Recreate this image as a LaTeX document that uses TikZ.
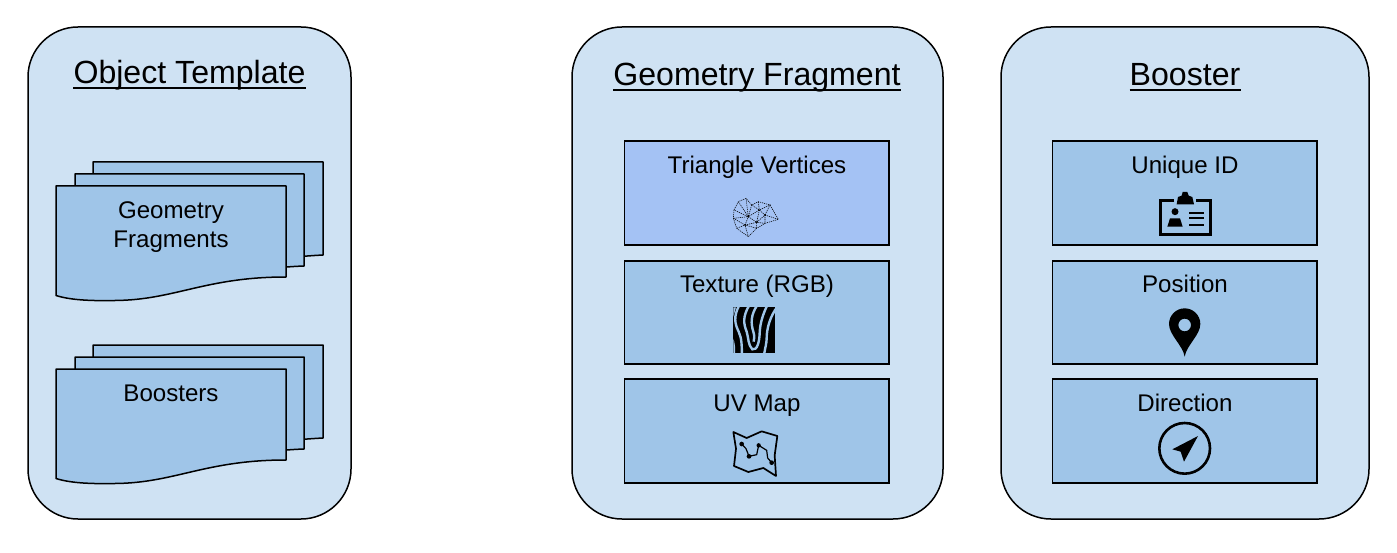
\documentclass[tikz,border=0pt]{standalone}
\usepackage{fontspec}
\setmainfont{Liberation Sans}
\definecolor{outerc}{HTML}{CFE2F3}
\definecolor{innerc}{HTML}{9FC5E8}
\definecolor{triac}{HTML}{A4C2F4}
\tikzset{
  panel/.style={draw=black,fill=outerc,line width=1.5pt,rounded corners=50pt},
  inbox/.style={draw=black,fill=innerc,line width=1.2pt},
  triabox/.style={draw=black,fill=triac,line width=1.2pt},
  sheet/.style={draw=black,fill=innerc,line width=1.5pt,line join=round},
  titletxt/.style={inner sep=0pt,anchor=base,font=\fontsize{32.1}{34}\selectfont},
  bodytxt/.style={inner sep=0pt,anchor=base,font=\fontsize{24.1}{29}\selectfont,align=center},
  uline/.style={draw=black,line width=2pt},
  icon/.style={shift={#1},scale=1/3},
  mesh/.style={line width=0.55pt,dash pattern=on 1.2pt off 0.9pt},
}
\newcommand{\stackdoc}[1]{%
  \begin{scope}[shift={(0,#1)}]
    \path[sheet] (93,162) -- (323,162) -- (323,255) .. controls (265,258) and (225,268) .. (190,272) -- (93,272) -- cycle;
    \path[sheet] (75,174) -- (304,174) -- (304,266) .. controls (250,268) and (210,280) .. (170,284) -- (75,284) -- cycle;
    \path[sheet] (56,186) -- (286,186) -- (286,277) .. controls (205,277) and (175,300) .. (115,300.5) .. controls (90,301) and (70,300) .. (56,295.5) -- cycle;
  \end{scope}}
\begin{document}
\begin{tikzpicture}[x=1pt,y=-1pt]
\useasboundingbox (0,0) rectangle (1397,553);
\path[panel] (28,27) rectangle (351,519);
\path[panel] (572,27) rectangle (943,519);
\path[panel] (1001,27) rectangle (1369,519);

\node[titletxt] (t1) at (189.5,84) {Object Template};
\node[titletxt] (t2) at (757,86) {Geometry Fragment};
\node[titletxt] (t3) at (1185,86) {Booster};
\draw[uline] ([yshift=-4.5pt]t1.base west) -- ([yshift=-4.5pt]t1.base east);
\draw[uline] ([yshift=-4.5pt]t2.base west) -- ([yshift=-4.5pt]t2.base east);
\draw[uline] ([yshift=-4.5pt]t3.base west) -- ([yshift=-4.5pt]t3.base east);

\stackdoc{0}
\stackdoc{183}
\node[bodytxt] (g1) at (171,219) {Geometry};
\node[bodytxt] (g2) at (171,248) {Fragments};
\node[bodytxt] (b1) at (171,401.5) {Boosters};

\path[triabox] (624.5,141) rectangle (889,245);
\path[inbox] (624.5,261) rectangle (889,364);
\path[inbox] (624.5,379) rectangle (889,483);
\path[inbox] (1052.5,141) rectangle (1317,245);
\path[inbox] (1052.5,261) rectangle (1317,364);
\path[inbox] (1052.5,379) rectangle (1317,483);

\node[bodytxt] (l1) at (757,174) {Triangle Vertices};
\node[bodytxt] (l2) at (757,292.5) {Texture (RGB)};
\node[bodytxt] (l3) at (757,411.5) {UV Map};
\node[bodytxt] (r1) at (1185,174) {Unique ID};
\node[bodytxt] (r2) at (1185,292.5) {Position};
\node[bodytxt] (r3) at (1185,411.5) {Direction};

% triangle mesh icon
\begin{scope}[icon={(720,185)},mesh]
  \draw (42,75) -- (55,50) -- (78,40) -- (95,60) -- (115,50) -- (150,60) -- (175,103) -- (135,115) -- (110,130) -- (85,155) -- (50,130) -- (40,100) -- cycle;
  \draw (55,50) -- (85,95) -- (42,75) (40,100) -- (85,95) -- (75,120) -- (50,130) (40,100) -- (75,120) -- (85,155) (75,120) -- (110,112) -- (110,130) -- (75,120);
  \draw (78,40) -- (85,95) -- (95,60) -- (118,75) -- (85,95) -- (110,112) -- (135,90) -- (118,75) -- (115,50) (118,75) -- (110,112) (135,90) -- (150,60) -- (118,75) (135,90) -- (175,103) (135,90) -- (135,115) -- (110,112);
  \fill (85,95) circle (3) (135,90) circle (3) (75,120) circle (3) (110,112) circle (2.5);
\end{scope}

% texture icon
\begin{scope}[icon={(720,300)}]
  \fill[black] (40,22) rectangle (165,158);
  \begin{scope}
    \clip (40,22) rectangle (165,158);
    \draw[innerc,line width=2.4pt]
      (58,15) .. controls (40,50) and (44,70) .. (56,95) .. controls (66,115) and (65,140) .. (66,165);
    \draw[innerc,line width=2.4pt]
      (88,15) .. controls (68,50) and (70,70) .. (80,95) .. controls (86,115) and (84,135) .. (97,148) .. controls (112,152) and (118,125) .. (119,100) .. controls (120,70) and (128,45) .. (142,15);
    \draw[innerc,line width=2.4pt]
      (112,15) .. controls (92,45) and (92,70) .. (100,95) .. controls (104,108) and (103,115) .. (101,125);
    \draw[innerc,line width=2.4pt]
      (172,20) .. controls (150,50) and (140,85) .. (140,115) .. controls (140,130) and (135,145) .. (132,165);
    \draw[innerc,line width=2.2pt] (36,115) .. controls (42,130) and (43,145) .. (42,165);
    \fill[innerc] (40,22) -- (48,22) -- (40,50) -- cycle;
  \end{scope}
\end{scope}

% uv map icon
\begin{scope}[icon={(720,422)}]
  \draw[line width=1.7pt,line join=round] (40,30) -- (80,48) -- (125,28) -- (172,42) -- (164,100) -- (168,162) -- (130,138) -- (85,150) -- (42,132) -- (48,80) -- cycle;
  \draw[line width=1.2pt] (65,66) -- (78,80) -- (87,103) -- (110,98) -- (116,70) -- (140,85) -- (143,108) -- (155,122);
  \fill (65,66) circle (7) (87,103) circle (7) (116,70) circle (6.5) (155,122) circle (7);
\end{scope}

% id card icon
\begin{scope}[icon={(1150,185)}]
  \draw[line width=3pt,line cap=butt] (72,46) -- (30,46) -- (30,150) -- (180,150) -- (180,46) -- (138,46);
  \fill (80,58) -- (84,36) -- (95,32) -- (98,21) -- (112,21) -- (116,32) -- (127,36) -- (132,58) -- cycle;
  \fill (75,80) circle (10.5);
  \fill (52,125) -- (60,100) -- (90,100) -- (98,125) -- cycle;
  \draw[line width=1.8pt] (118,85) -- (162,85) (118,100) -- (162,100) (118,120) -- (162,120);
\end{scope}

% pin icon
\begin{scope}[icon={(1150,300)}]
  \fill[even odd rule] (104,170) .. controls (98,135) and (57,105) .. (57,72) arc[start angle=180,end angle=360,radius=47] .. controls (151,105) and (110,135) .. (104,170) -- cycle (104,75) circle (19);
\end{scope}

% direction icon
\begin{scope}[icon={(1150,420)}]
  \draw[line width=2.6pt] (104,85) circle (76);
  \fill (144,48) -- (67,88) -- (92,95) -- (102,125) -- cycle;
\end{scope}
\end{tikzpicture}
\end{document}
